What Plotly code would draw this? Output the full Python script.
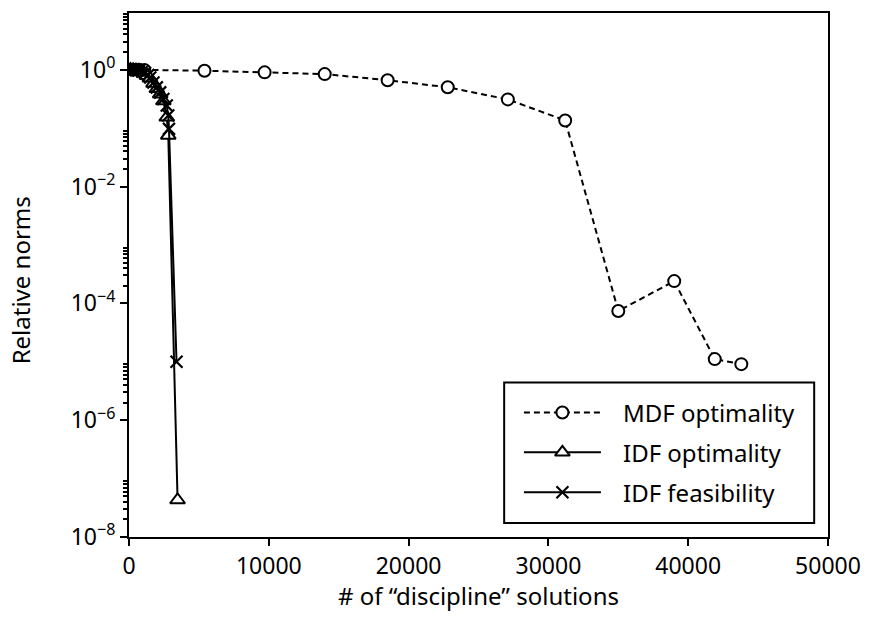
import plotly.graph_objects as go

# ---- data -------------------------------------------------------------
mdf_x = [250, 700, 1100, 5400, 9700, 14000, 18500, 22800, 27100, 31200,
         35000, 39000, 41900, 43800]
mdf_y = [1.0, 1.0, 0.99, 0.96, 0.90, 0.84, 0.66, 0.50, 0.31, 0.135,
         7.4e-5, 2.4e-4, 1.11e-5, 9.1e-6]

idf_opt_x = [100, 300, 500, 700, 900, 1100, 1300, 1500, 1750, 1990,
             2230, 2460, 2700, 2810, 3475]
idf_opt_y = [1.0, 0.99, 0.98, 0.96, 0.92, 0.86, 0.79, 0.71, 0.58, 0.47,
             0.38, 0.29, 0.153, 0.075, 4.3e-8]

idf_feas_x = [100, 300, 500, 700, 950, 1150, 1380, 1520, 1750, 1990,
              2230, 2460, 2700, 2810, 2860, 3400]
idf_feas_y = [1.0, 1.0, 0.99, 0.97, 0.93, 0.88, 0.81, 0.736, 0.605, 0.498,
              0.409, 0.315, 0.243, 0.164, 0.097, 1.0e-5]

x_ticks = [0, 10000, 20000, 30000, 40000, 50000]
x_ticklabels = ["0", "10000", "20000", "30000", "40000", "50000"]
y_ticks = [1e-8, 1e-6, 1e-4, 1e-2, 1e0]
y_ticklabels = ["10<sup>−8</sup>", "10<sup>−6</sup>", "10<sup>−4</sup>",
                "10<sup>−2</sup>", "10<sup>0</sup>"]
y_minor = [m * 10.0 ** e for e in (-8, -6, -4, -2, 0) for m in range(2, 10)]

legend_labels = ["MDF optimality", "IDF optimality", "IDF feasibility"]

# ---- styling ----------------------------------------------------------
FONT = "Noto Sans"
W, H = 872, 621
ML, MR, MT, MB = 129, 35, 11, 84
PW, PH = W - ML - MR, H - MT - MB

def px_x(px):
    return (px - ML) / PW

def px_y(py):
    return (H - MB - py) / PH

dash = "6px,4px"
styles = [
    dict(line=dict(color="black", width=2, dash=dash),
         marker=dict(symbol="circle", size=12, color="white",
                     line=dict(color="black", width=2))),
    dict(line=dict(color="black", width=2),
         marker=dict(symbol="triangle-up", size=13, color="white",
                     line=dict(color="black", width=2))),
    dict(line=dict(color="black", width=2),
         marker=dict(symbol="x-thin", size=12, color="black",
                     line=dict(color="black", width=2.2))),
]

fig = go.Figure()
series = [(mdf_x, mdf_y), (idf_opt_x, idf_opt_y), (idf_feas_x, idf_feas_y)]
for (xs, ys), st, name in zip(series, styles, legend_labels):
    fig.add_trace(go.Scatter(x=xs, y=ys, mode="lines+markers", name=name,
                             showlegend=False, **st))

# ---- legend box drawn on an overlay axis in plot-fraction units --------
box_l, box_r, box_t, box_b = 509, 823, 382, 523
rows_y = [412, 452, 492]
sample_l, sample_r, sample_c, text_x = 529, 607, 568, 627

shapes = [dict(type="rect", xref="paper", yref="paper",
               x0=px_x(box_l), x1=px_x(box_r), y0=px_y(box_b), y1=px_y(box_t),
               line=dict(color="black", width=2), fillcolor="white",
               layer="below")]
annotations = []
for st, name, ry in zip(styles, legend_labels, rows_y):
    fig.add_trace(go.Scatter(x=[px_x(sample_l), px_x(sample_r)],
                             y=[px_y(ry), px_y(ry)], mode="lines",
                             line=st["line"], xaxis="x2", yaxis="y2",
                             showlegend=False, hoverinfo="skip"))
    fig.add_trace(go.Scatter(x=[px_x(sample_c)], y=[px_y(ry)], mode="markers",
                             marker=st["marker"], xaxis="x2", yaxis="y2",
                             showlegend=False, hoverinfo="skip"))
    annotations.append(dict(text=name, xref="paper", yref="paper",
                            x=px_x(text_x), y=px_y(ry), xanchor="left",
                            yanchor="middle", showarrow=False,
                            font=dict(family=FONT, size=24, color="black")))

annotations.append(dict(text="# of “discipline” solutions", xref="paper",
                        yref="paper", x=0.5, y=px_y(596), xanchor="center",
                        yanchor="middle", showarrow=False,
                        font=dict(family=FONT, size=24, color="black")))
annotations.append(dict(text="Relative norms", xref="paper", yref="paper",
                        x=px_x(20), y=px_y(279), xanchor="center",
                        yanchor="middle", textangle=-90, showarrow=False,
                        font=dict(family=FONT, size=24, color="black")))

axis_common = dict(showgrid=False, zeroline=False, linecolor="black",
                   linewidth=2, mirror=True, ticks="outside", ticklen=7,
                   tickwidth=2, tickcolor="black",
                   tickfont=dict(family=FONT, size=23, color="black"))

fig.update_layout(
    width=W, height=H,
    margin=dict(l=ML, r=MR, t=MT, b=MB),
    paper_bgcolor="white", plot_bgcolor="white",
    font=dict(family=FONT, color="black"),
    xaxis=dict(range=[0, 50000], tickmode="array", tickvals=x_ticks,
               ticktext=x_ticklabels, **axis_common),
    yaxis=dict(type="log", range=[-8, 0.97], tickmode="array",
               tickvals=y_ticks, ticktext=y_ticklabels,
               minor=dict(tickmode="array", tickvals=y_minor, ticks="outside",
                          ticklen=4, tickwidth=1.5, tickcolor="black"),
               **axis_common),
    xaxis2=dict(range=[0, 1], overlaying="x", anchor="y2", visible=False),
    yaxis2=dict(range=[0, 1], overlaying="y", anchor="x2", visible=False),
    shapes=shapes,
    annotations=annotations,
)

fig.write_html("out.html")
